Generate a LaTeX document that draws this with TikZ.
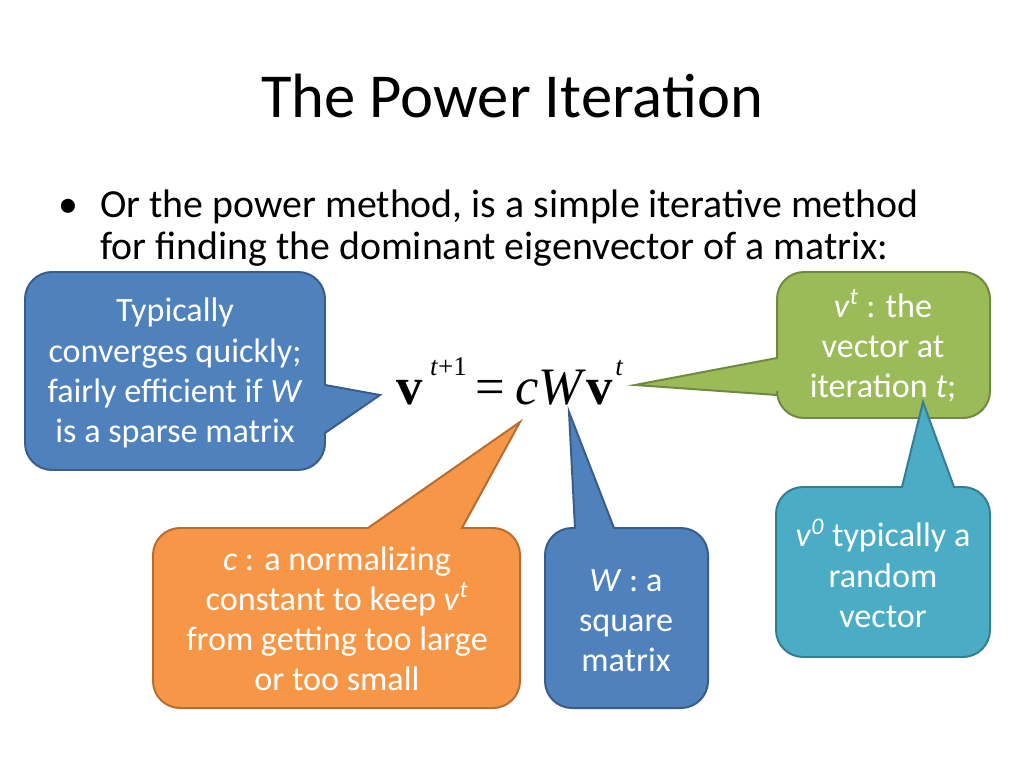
\documentclass[tikz,border=0pt]{standalone}
\usepackage{fontspec}
\setmainfont{Carlito}
\newfontfamily\eqfont{Liberation Serif}
\usetikzlibrary{positioning}

\definecolor{blueF}{HTML}{4F81BD}
\definecolor{blueD}{HTML}{385D8A}
\definecolor{orangeF}{HTML}{F79646}
\definecolor{orangeD}{HTML}{B66D31}
\definecolor{greenF}{HTML}{9BBB59}
\definecolor{greenD}{HTML}{71893F}
\definecolor{tealF}{HTML}{4BACC6}
\definecolor{tealD}{HTML}{357D91}

\newcommand{\eqsup}[1]{\raisebox{20pt}{\fontsize{19}{22}\selectfont #1}}

\begin{document}
\begin{tikzpicture}[x=0.703125pt,y=-0.703125pt,
    bubble/.style={line width=1.4pt,rounded corners=19pt},
    saying/.style={text=white,align=center,inner sep=0pt,
                   font=\fontsize{24}{28.2}\selectfont},
    bullettext/.style={anchor=base west,inner sep=0pt,font=\fontsize{28}{30}\selectfont}]
    \useasboundingbox (0,0) rectangle (1024,768);

    \node (title) [anchor=base] at (512,118) {\fontsize{44}{52}\selectfont The Power Iteration};
    \node (line1) [bullettext] at (100,218) {Or the power method, is a simple iterative method};
    \node (line2) [bullettext] at (100,260) {for finding the dominant eigenvector of a matrix:};
    \node (dot) [left=22pt of line1.base west,anchor=base,inner sep=0pt,font=\fontsize{28}{30}\selectfont] {\textbullet};

    \node (eq) [anchor=base,inner sep=0pt] at (510,404)
        {\eqfont\fontsize{37}{40}\selectfont\textbf{v}\hspace{5pt}\eqsup{\textit{t}+1}\hspace{6pt}=\hspace{7pt}\textit{cW}\textbf{v}\hspace{2pt}\eqsup{\textit{t}}};

    \coordinate (convtip) at (380,395);
    \coordinate (vttip) at (635,385);
    \coordinate (ctip) at (520,422);
    \coordinate (wtip) at (569,412);
    \coordinate (v0tip) at (923,402);

    \draw[bubble,fill=blueF,draw=blueD] (175,272) -- (325,272) [sharp corners] -- (325,385) -- (convtip)
        -- (325,433) [rounded corners=19pt] -- (325,470) -- (25,470) -- (25,272) -- cycle;
    \draw[bubble,fill=greenF,draw=greenD] (883,272) -- (990,272) -- (990,418) -- (777,418) [sharp corners]
        -- (777,395) -- (vttip) -- (777,358) [rounded corners=19pt] -- (777,272) -- cycle;
    \draw[bubble,fill=tealF,draw=tealD] (883,657) -- (776,657) -- (776,487) [sharp corners] -- (902,487)
        -- (v0tip) -- (954,487) [rounded corners=19pt] -- (990,487) -- (990,657) -- cycle;
    \draw[bubble,fill=orangeF,draw=orangeD] (337,708) -- (153,708) -- (153,528) [sharp corners] -- (368,528)
        -- (ctip) -- (462,528) [rounded corners=19pt] -- (520,528) -- (520,708) -- cycle;
    \draw[bubble,fill=blueF,draw=blueD] (626,708) -- (545,708) -- (545,528) [sharp corners] -- (575,528)
        -- (wtip) -- (614,528) [rounded corners=19pt] -- (708,528) -- (708,708) -- cycle;

    \node (conv) [saying] at (175,373) {Typically\\converges quickly;\\fairly efficient if \textit{W}\\is a sparse matrix};
    \node (vt) [saying] at (883,346) {\textit{v}\textsuperscript{\textit{t}} : the\\vector at\\iteration \textit{t};};
    \node (v0) [saying] at (883,573) {\textit{v}\textsuperscript{\textit{0}} typically a\\random\\vector};
    \node (c) [saying] at (337,619) {\textit{c} : a normalizing\\constant to keep \textit{v}\textsuperscript{\textit{t}}\\from getting too large\\or too small};
    \node (w) [saying] at (626,621) {\textit{W} : a\\square\\matrix};
\end{tikzpicture}
\end{document}
